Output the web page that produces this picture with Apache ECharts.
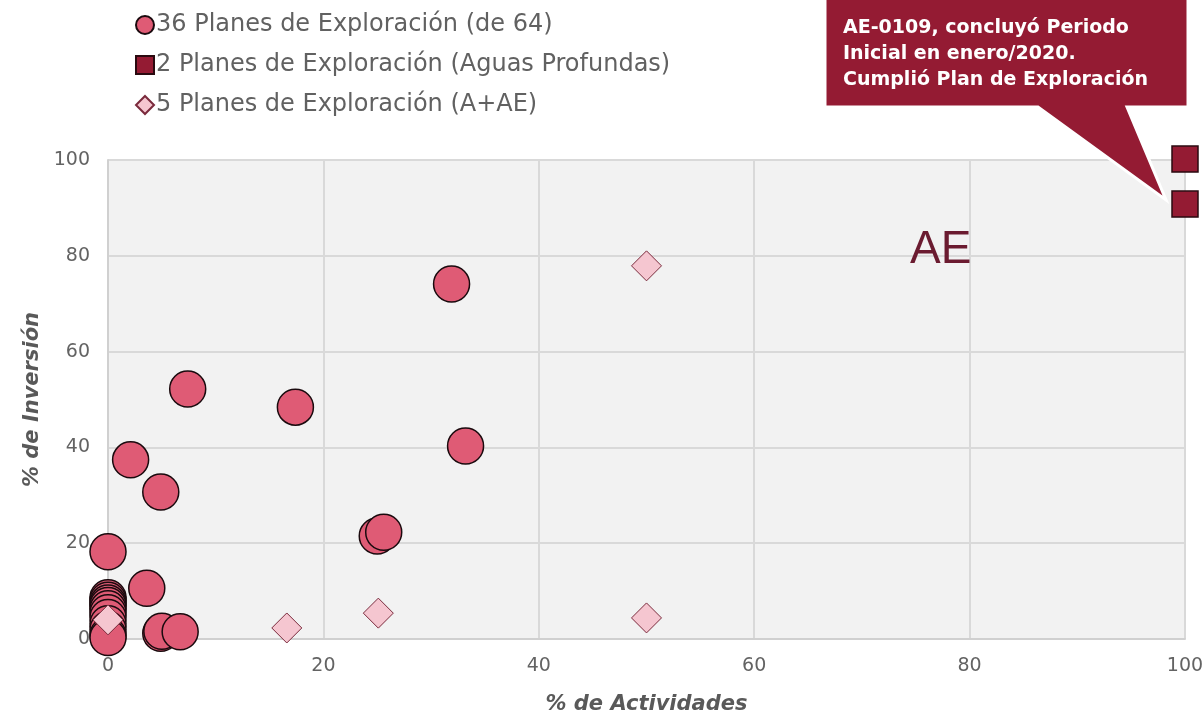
<!DOCTYPE html>
<html><head><meta charset="utf-8">
<script src="https://cdn.jsdelivr.net/npm/echarts@6/dist/echarts.min.js"></script>
<style>html,body{margin:0;padding:0;background:#fff}#c{width:1203px;height:716px}</style>
</head><body><div id="c"></div>
<script>
const seriesNames = ['36 Planes de Exploración (de 64)', '2 Planes de Exploración (Aguas Profundas)', '5 Planes de Exploración (A+AE)'];
// [% Actividades, % Inversión]
const planes36 = [
  [31.9, 74.1], [7.4, 52.2], [17.4, 48.4], [33.2, 40.3], [2.1, 37.4], [4.9, 30.7],
  [25.0, 21.5], [25.6, 22.3], [0, 18.2], [3.6, 10.6], [4.9, 1.2], [5.0, 1.6], [6.7, 1.5],
  [0, 8.6], [0, 8.1], [0, 7.5], [0, 7.0], [0, 6.3], [0, 5.5], [0, 4.5], [0, 3.2], [0, 2.0], [0, 0.8], [0, 0.3]
];
const aguasProfundas = [[100, 100.2], [100, 90.8]];
const planesAAE = [[50.0, 77.9], [25.1, 5.4], [16.6, 2.3], [50.0, 4.4], [0, 4.0]];
const xTicks = {min: 0, max: 100, interval: 20};
const yTicks = {min: 0, max: 100, interval: 20};
const xTitle = '% de Actividades';
const yTitle = '% de Inversión';
const calloutText = 'AE-0109, concluyó Periodo\nInicial en enero/2020.\nCumplió Plan de Exploración';
const regionLabel = 'AE';

const chart = echarts.init(document.getElementById('c'));
const FONT = '"DejaVu Sans", sans-serif';
chart.setOption({
  animation: false,
  backgroundColor: '#fff',
  textStyle: {fontFamily: FONT},
  grid: {left: 108, right: 18, top: 160, bottom: 77, show: true, backgroundColor: '#F2F2F2', borderWidth: 0,
         containLabel: false, outerBoundsMode: 'none'},
  legend: {
    orient: 'vertical', left: 130, top: 8, itemGap: 16, itemWidth: 18, itemHeight: 18,
    textStyle: {fontSize: 24, color: '#616161', fontFamily: FONT, padding: [0, 0, 0, -3]},
    data: [
      {name: seriesNames[0], icon: 'circle'},
      {name: seriesNames[1], icon: 'rect'},
      {name: seriesNames[2], icon: 'diamond'}
    ]
  },
  xAxis: {
    type: 'value', min: xTicks.min, max: xTicks.max, interval: xTicks.interval,
    name: xTitle, nameLocation: 'middle', nameGap: 55,
    nameTextStyle: {fontSize: 21, fontWeight: 'bold', fontStyle: 'italic', color: '#595959', fontFamily: FONT},
    axisLine: {show: true, lineStyle: {color: '#D0D0D0', width: 2}},
    axisTick: {show: false},
    axisLabel: {fontSize: 19, color: '#636363', margin: 18},
    splitLine: {show: true, lineStyle: {color: '#D9D9D9', width: 2}}
  },
  yAxis: {
    type: 'value', min: yTicks.min, max: yTicks.max, interval: yTicks.interval,
    name: yTitle, nameLocation: 'middle', nameGap: 62, nameRotate: 90,
    nameTextStyle: {fontSize: 21, fontWeight: 'bold', fontStyle: 'italic', color: '#595959', fontFamily: FONT},
    axisLine: {show: true, lineStyle: {color: '#D0D0D0', width: 2}},
    axisTick: {show: false},
    axisLabel: {fontSize: 19, color: '#636363', margin: 18},
    splitLine: {show: true, lineStyle: {color: '#D9D9D9', width: 2}}
  },
  series: [
    {
      name: seriesNames[0], type: 'scatter', data: planes36, symbol: 'circle', symbolSize: 36, clip: false,
      itemStyle: {color: '#DF5B75', borderColor: '#1a0a0e', borderWidth: 1.5, opacity: 1}
    },
    {
      name: seriesNames[1], type: 'scatter', data: aguasProfundas, symbol: 'rect', symbolSize: 26, clip: false,
      itemStyle: {color: '#941B33', borderColor: '#2a0a10', borderWidth: 1.5, opacity: 1}
    },
    {
      name: seriesNames[2], type: 'scatter', data: planesAAE, symbol: 'diamond', symbolSize: 30, clip: false, z: 3,
      itemStyle: {color: '#F5C6D0', borderColor: '#7a2a3c', borderWidth: 1, opacity: 1}
    }
  ],
  graphic: [
    {
      type: 'text', left: 910, top: 227, z: 5,
      style: {text: regionLabel, fontSize: 46, fill: '#6B1B30', fontFamily: '"Liberation Sans", Arial, sans-serif'}
    },
    {
      type: 'polygon', z: 10,
      shape: {points: [[825, -2], [1188, -2], [1188, 107], [1127, 107], [1166, 200], [1038, 107], [825, 107]]},
      style: {fill: '#941B33', stroke: '#ffffff', lineWidth: 3}
    },
    {
      type: 'text', left: 843, top: 15, z: 11,
      style: {text: calloutText, fontSize: 19, fontWeight: 'bold', fill: '#ffffff', lineHeight: 26, fontFamily: FONT}
    }
  ]
});
</script></body></html>
